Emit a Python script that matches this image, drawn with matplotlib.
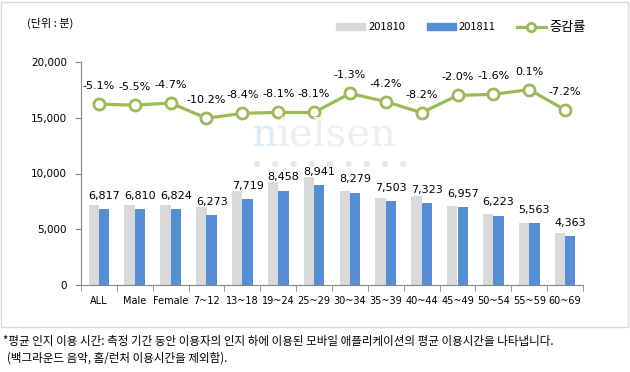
import matplotlib
matplotlib.use('Agg')
import matplotlib.pyplot as plt
import matplotlib.patches as mpatches
from matplotlib.lines import Line2D
import numpy as np

plt.rcParams['font.family'] = ['Noto Sans CJK KR', 'DejaVu Sans']
plt.rcParams['axes.unicode_minus'] = False

# 데이터
categories = ['ALL', 'Male', 'Female', '7~12', '13~18', '19~24', '25~29',
              '30~34', '35~39', '40~44', '45~49', '50~54', '55~59', '60~69']
oct_values = [7183, 7206, 7161, 6986, 8427, 9203, 9729,
              8388, 7832, 7977, 7099, 6324, 5557, 4701]
nov_values = [6817, 6810, 6824, 6273, 7719, 8458, 8941,
              8279, 7503, 7323, 6957, 6223, 5563, 4363]
change_pct = [-5.1, -5.5, -4.7, -10.2, -8.4, -8.1, -8.1,
              -1.3, -4.2, -8.2, -2.0, -1.6, 0.1, -7.2]

grey = '#D9D9D9'
blue = '#558ED5'
green = '#9BBB59'
num_font = ['DejaVu Sans']

fig = plt.figure(figsize=(6.3, 3.72), dpi=100)
ax = fig.add_axes([81 / 630, 1 - 285 / 372, 502 / 630, 223 / 372])

x = np.arange(len(categories))
w = 0.29
ax.bar(x - w / 2, oct_values, w, color=grey, zorder=2)
ax.bar(x + w / 2, nov_values, w, color=blue, zorder=2)

for xi, v in zip(x, nov_values):
    ax.annotate(f'{v:,}', (xi + w / 2, v), xytext=(0, 9.5), textcoords='offset points',
                ha='center', va='center', fontsize=8, family=num_font, zorder=5)

ax.set_xlim(-0.5, len(categories) - 0.5)
ax.set_ylim(0, 20000)
ax.set_yticks([0, 5000, 10000, 15000, 20000])
ax.set_yticklabels(['0', '5,000', '10,000', '15,000', '20,000'], fontsize=7.5, family=num_font)
ax.set_xticks(x)
ax.set_xticklabels(categories, fontsize=7, family=num_font)
ax.set_xticks(np.arange(-0.5, len(categories)), minor=True)
ax.tick_params(axis='x', which='major', length=0, pad=8)
ax.tick_params(axis='x', which='minor', length=4, color='#868686')
ax.tick_params(axis='y', length=4, color='#868686', pad=6)
for s in ['top', 'right']:
    ax.spines[s].set_visible(False)
ax.spines['left'].set_color('#868686')
ax.spines['bottom'].set_color('#868686')

# 증감률 (보조축, 숨김)
ax2 = ax.twinx()
ax2.set_ylim(-70, 10)
ax2.axis('off')
ax2.plot(x, change_pct, color=green, lw=2.3, marker='o', ms=8,
         mfc='white', mec=green, mew=2, zorder=4)
for xi, p in zip(x, change_pct):
    ax2.annotate(f'{p:.1f}%', (xi, p), xytext=(0, 13), textcoords='offset points',
                 ha='center', va='center', fontsize=8, family=num_font)

# 워터마크
fig.text(277 / 630, 1 - 136 / 372, 'n', color='#DCEDF8', fontsize=29, family='DejaVu Serif',
         ha='right', va='center', zorder=0)
fig.text(277 / 630, 1 - 136 / 372, 'ielsen', color='#EEEEEE', fontsize=29, family='DejaVu Serif',
         ha='left', va='center', zorder=0)
for dx in np.arange(257, 405, 18.3):
    fig.patches.append(mpatches.Ellipse((dx / 630, 1 - 164 / 372), 5 / 630, 5 / 372,
                                        transform=fig.transFigure, color='#E8E8E8', zorder=0))

# 범례
handles = [mpatches.Patch(color=grey, label='201810'),
           mpatches.Patch(color=blue, label='201811'),
           Line2D([0], [0], color=green, lw=2.3, marker='o', ms=6, mfc='white', mec=green, mew=2,
                  label='증감률')]
leg = fig.legend(handles=handles, loc='center', bbox_to_anchor=(461 / 630, 1 - 27 / 372), ncol=3,
                 frameon=False, fontsize=8, handlelength=2.6, handleheight=0.6, columnspacing=1.9,
                 handletextpad=0.3)
leg.get_texts()[2].set_fontsize(9.5)

fig.text(27 / 630, 1 - 23 / 372, '(단위 : 분)', fontsize=8, ha='left', va='center')

# 테두리
fig.patches.append(mpatches.Rectangle((1 / 630, 1 - 327 / 372), 627 / 630, 325 / 372,
                                      transform=fig.transFigure, fill=False, ec='#D9D9D9', lw=1))

fig.text(3 / 630, 1 - 341 / 372,
         '*평균 인지 이용 시간: 측정 기간 동안 이용자의 인지 하에 이용된 모바일 애플리케이션의 평균 이용시간을 나타냅니다.',
         fontsize=8.3, ha='left', va='center')
fig.text(7 / 630, 1 - 358 / 372, '(백그라운드 음악, 홈/런처 이용시간을 제외함).',
         fontsize=8.3, ha='left', va='center')

fig.savefig('out.png', dpi=100)
